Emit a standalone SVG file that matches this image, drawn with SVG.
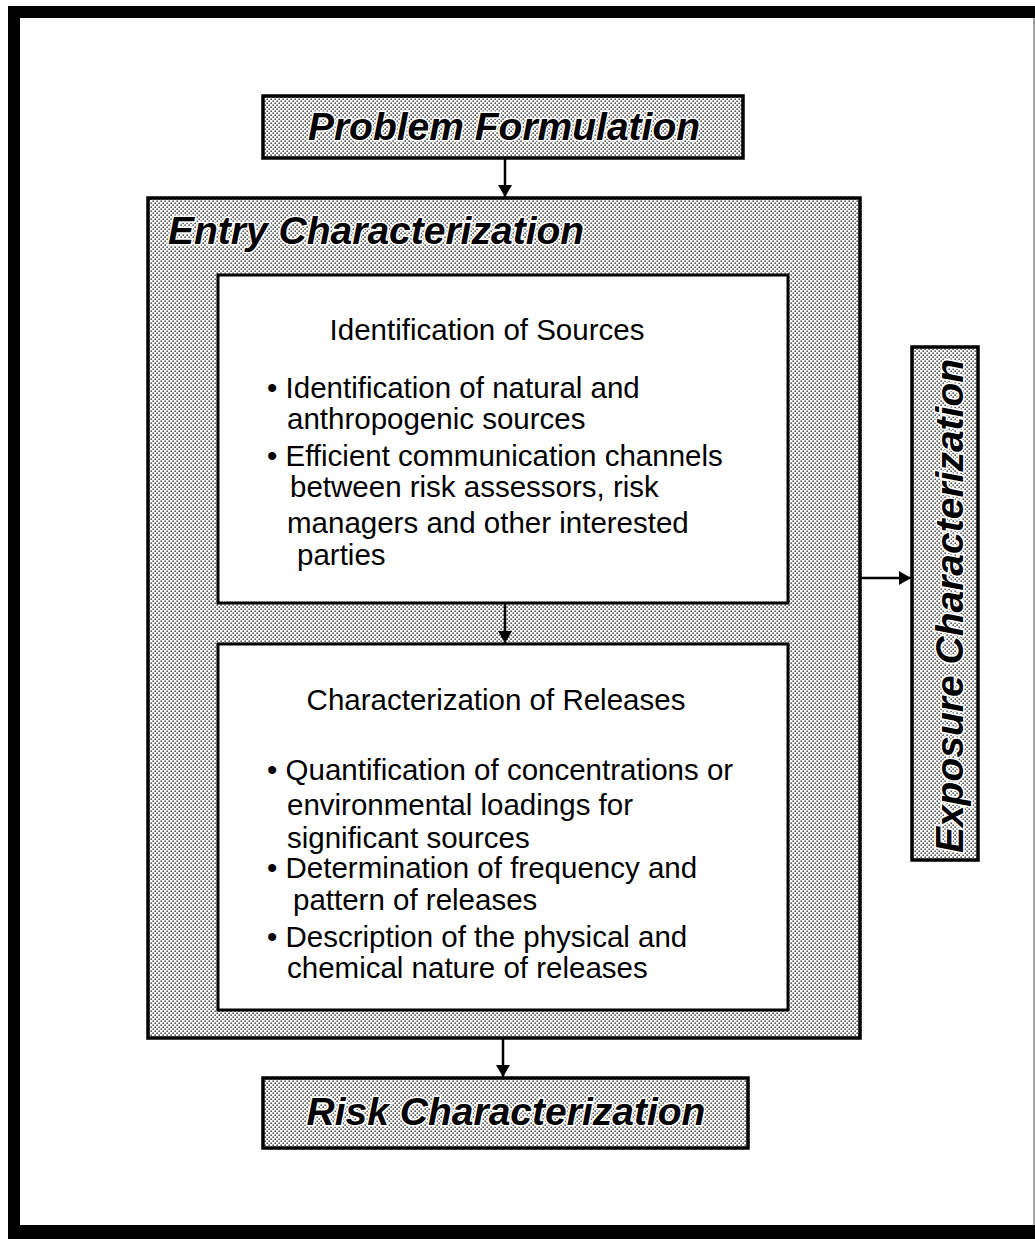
<svg xmlns="http://www.w3.org/2000/svg" width="1035" height="1239" viewBox="0 0 1035 1239">
  <defs>
    <!-- halftone dot fill used for the shaded boxes -->
    <pattern id="dots" width="4" height="4" patternUnits="userSpaceOnUse">
      <rect width="4" height="4" fill="#ffffff"/>
      <rect x="0.5" y="0.5" width="1.3" height="1.3" fill="#000"/>
      <rect x="2.5" y="2.5" width="1.3" height="1.3" fill="#000"/>
    </pattern>
    <marker id="arrow" viewBox="0 0 12 14" refX="12" refY="7" markerWidth="12" markerHeight="14" markerUnits="userSpaceOnUse" orient="auto">
      <path d="M0,0 L12,7 L0,14 Z" fill="#000"/>
    </marker>
    <style>
      .shaded { fill: url(#dots); stroke: #000; stroke-width: 3.5; }
      .panel { fill: #fff; stroke: #000; stroke-width: 3; }
      .title { font-family: "Liberation Sans", Arial, sans-serif; font-weight: bold; font-style: italic; font-size: 39px; fill: #000; stroke: #fff; stroke-width: 3; paint-order: stroke; stroke-linejoin: round; }
      .body { font-family: "Liberation Sans", Arial, sans-serif; font-size: 29.5px; fill: #000; }
      .conn { stroke: #000; stroke-width: 2.5; fill: none; }
    </style>
  </defs>

  <rect width="1035" height="1239" fill="#fff"/>

  <!-- page frame -->
  <g id="frame">
    <rect x="8" y="6" width="1027" height="12" fill="#000"/>
    <rect x="8" y="6" width="12" height="1233" fill="#000"/>
    <rect x="8" y="1225" width="1027" height="14" fill="#000"/>
    <line x1="1034" y1="18" x2="1034" y2="1225" stroke="#888" stroke-width="1.5"/>
  </g>

  <g id="problem-formulation">
    <rect class="shaded" x="263" y="96" width="480" height="62"/>
    <text class="title" x="504" y="140" text-anchor="middle">Problem Formulation</text>
  </g>

  <g id="entry-characterization">
    <rect class="shaded" x="148" y="198" width="712" height="840"/>
    <text class="title" x="168" y="244">Entry Characterization</text>
  </g>

  <g id="identification-of-sources">
    <rect class="panel" x="218" y="275" width="570" height="328"/>
    <text class="body" x="487" y="340" text-anchor="middle">Identification of Sources</text>
    <text class="body" x="267" y="398">• Identification of natural and</text>
    <text class="body" x="287" y="429">anthropogenic sources</text>
    <text class="body" x="267" y="466">• Efficient communication channels</text>
    <text class="body" x="290" y="497">between risk assessors, risk</text>
    <text class="body" x="287" y="533">managers and other interested</text>
    <text class="body" x="297" y="565">parties</text>
  </g>

  <g id="characterization-of-releases">
    <rect class="panel" x="218" y="644" width="570" height="366"/>
    <text class="body" x="496" y="710" text-anchor="middle">Characterization of Releases</text>
    <text class="body" x="267" y="780">• Quantification of concentrations or</text>
    <text class="body" x="287" y="815">environmental loadings for</text>
    <text class="body" x="287" y="848">significant sources</text>
    <text class="body" x="267" y="878">• Determination of frequency and</text>
    <text class="body" x="293" y="910">pattern of releases</text>
    <text class="body" x="267" y="947">• Description of the physical and</text>
    <text class="body" x="287" y="978">chemical nature of releases</text>
  </g>

  <g id="exposure-characterization">
    <rect class="shaded" x="912" y="347" width="66" height="513"/>
    <text class="title" x="0" y="0" text-anchor="middle" transform="translate(963 606) rotate(-90)">Exposure Characterization</text>
  </g>

  <g id="risk-characterization">
    <rect class="shaded" x="263" y="1078" width="485" height="70"/>
    <text class="title" x="506" y="1125" text-anchor="middle">Risk Characterization</text>
  </g>

  <g id="connectors">
    <line class="conn" x1="505" y1="158" x2="505" y2="197" marker-end="url(#arrow)"/>
    <line class="conn" x1="505" y1="603" x2="505" y2="643" marker-end="url(#arrow)"/>
    <line class="conn" x1="860" y1="578" x2="911" y2="578" marker-end="url(#arrow)"/>
    <line class="conn" x1="503" y1="1038" x2="503" y2="1077" marker-end="url(#arrow)"/>
  </g>
</svg>
